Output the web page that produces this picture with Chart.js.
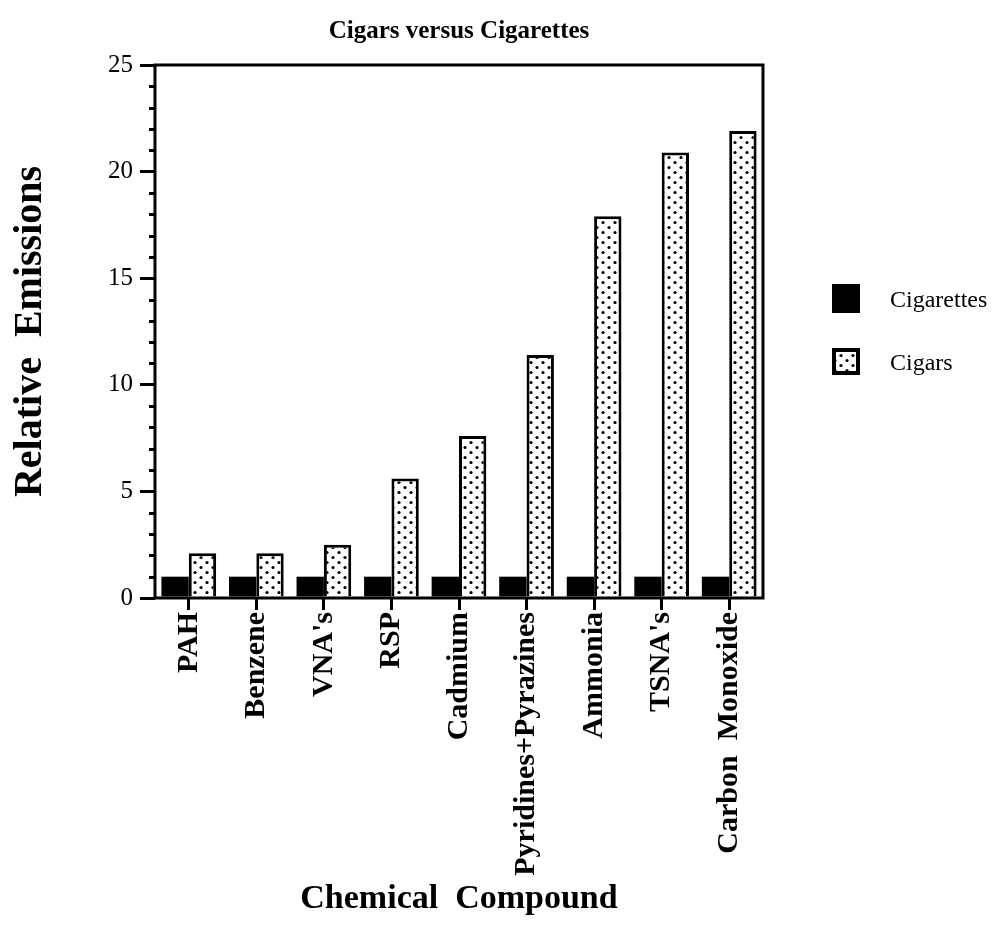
<!DOCTYPE html>
<html><head><meta charset="utf-8">
<script src="https://cdn.jsdelivr.net/npm/chart.js@4.4.1/dist/chart.umd.min.js"></script>
<style>
html,body{margin:0;padding:0;background:#fff}
#wrap{position:relative;width:994px;height:943px}
#legend{position:absolute;left:0;top:0;font-family:'Liberation Serif',serif;font-size:24px;color:#000}
.item{position:absolute;display:flex;align-items:center;white-space:nowrap}
.item canvas{display:block}
.item span{position:absolute;left:58px;top:50%;transform:translateY(-50%)}
</style>
</head><body>
<div id="wrap">
<canvas id="c" width="994" height="943"></canvas>
<div id="legend"></div>
</div>
<script>
// ---- data ----
const categories = ["PAH", "Benzene", "VNA's", "RSP", "Cadmium", "Pyridines+Pyrazines", "Ammonia", "TSNA's", "Carbon  Monoxide"];
const seriesNames = ["Cigarettes", "Cigars"];
const cigarettes = [1.0, 1.0, 1.0, 1.0, 1.0, 1.0, 1.0, 1.0, 1.0];
const cigars = [2.1, 2.1, 2.5, 5.6, 7.6, 11.4, 17.9, 20.9, 21.9];
const yMin = 0, yMax = 25, yMajorStep = 5, yMinorStep = 1;

const FONT = "'Liberation Serif', 'Times New Roman', serif";

function makeDotPattern(ctx) {
  const p = document.createElement('canvas');
  p.width = 12; p.height = 10;
  const g = p.getContext('2d');
  g.fillStyle = '#fff'; g.fillRect(0, 0, 12, 10);
  g.fillStyle = '#000';
  [[3, 2.5], [9, 7.5]].forEach(([x, y]) => { g.beginPath(); g.arc(x, y, 1.6, 0, Math.PI * 2); g.fill(); });
  return ctx.createPattern(p, 'repeat');
}

const canvas = document.getElementById('c');
const ctx = canvas.getContext('2d');
const dots = makeDotPattern(ctx);

const framePlugin = {
  id: 'frame',
  afterDatasetsDraw(chart) {
    const {ctx, chartArea: a, scales: {y}} = chart;
    ctx.save();
    ctx.strokeStyle = '#000';
    ctx.lineWidth = 3;
    // minor ticks on y axis
    for (let v = yMin; v <= yMax; v += yMinorStep) {
      if (v % yMajorStep === 0) continue;
      const py = Math.round(y.getPixelForValue(v)) + 0.5;
      ctx.beginPath(); ctx.moveTo(a.left - 6, py); ctx.lineTo(a.left, py); ctx.stroke();
    }
    ctx.strokeRect(a.left, a.top, a.right - a.left, a.bottom - a.top);
    ctx.restore();
  }
};

const chart = new Chart(ctx, {
  type: 'bar',
  data: {
    labels: categories,
    datasets: [
      { label: seriesNames[0], data: cigarettes, backgroundColor: '#000', borderColor: '#000', borderWidth: 0,
        categoryPercentage: 0.81, barPercentage: 1.0 },
      { label: seriesNames[1], data: cigars, backgroundColor: dots, borderColor: '#000', borderWidth: 3,
        categoryPercentage: 0.81, barPercentage: 1.0 }
    ]
  },
  options: {
    responsive: false,
    animation: false,
    devicePixelRatio: 1,
    layout: { padding: { left: 0, right: 231, top: 0, bottom: 0 } },
    plugins: {
      legend: { display: false },
      tooltip: { enabled: false },
      title: {
        display: true, text: 'Cigars versus Cigarettes', fullSize: false, color: '#000',
        font: { family: FONT, size: 25, weight: 'bold' }, padding: { top: 17, bottom: 18 }
      }
    },
    scales: {
      x: {
        offset: true,
        border: { display: false },
        grid: { display: true, offset: false, drawOnChartArea: false, drawTicks: true, tickLength: 12, lineWidth: 3, color: '#000' },
        ticks: { color: '#000', font: { family: FONT, size: 30, weight: 'bold' }, minRotation: 90, maxRotation: 90, autoSkip: false, padding: 2 },
        title: { display: true, text: 'Chemical  Compound', color: '#000', font: { family: FONT, size: 34, weight: 'bold' }, padding: { top: 0, bottom: 23 } },
        afterFit(s) { s.height = 345; }
      },
      y: {
        min: yMin, max: yMax,
        border: { display: false },
        grid: { display: true, drawOnChartArea: false, drawTicks: true, tickLength: 15, lineWidth: 3, color: '#000' },
        ticks: { stepSize: yMajorStep, color: '#000', font: { family: FONT, size: 25 }, padding: 7 },
        title: { display: true, text: 'Relative  Emissions', color: '#000', font: { family: FONT, size: 40, weight: 'bold' }, padding: { top: 7, bottom: 0 } },
        afterFit(s) { s.width = 155; }
      }
    }
  },
  plugins: [framePlugin]
});

// ---- HTML legend built from the chart's datasets ----
const legend = document.getElementById('legend');
const legendPos = [{ left: 832, top: 284, w: 28, h: 29 }, { left: 832, top: 348, w: 28, h: 27 }];
chart.data.datasets.forEach((ds, i) => {
  const pos = legendPos[i];
  const item = document.createElement('div');
  item.className = 'item';
  item.style.left = pos.left + 'px'; item.style.top = pos.top + 'px'; item.style.height = pos.h + 'px';
  const sw = document.createElement('canvas');
  sw.width = pos.w; sw.height = pos.h;
  const g = sw.getContext('2d');
  g.fillStyle = ds.borderWidth ? makeDotPattern(g) : ds.backgroundColor;
  g.fillRect(0, 0, pos.w, pos.h);
  if (ds.borderWidth) { g.strokeStyle = '#000'; g.lineWidth = 4; g.strokeRect(2, 2, pos.w - 4, pos.h - 4); }
  const sp = document.createElement('span');
  sp.textContent = ds.label;
  item.appendChild(sw); item.appendChild(sp);
  legend.appendChild(item);
});
</script>
</body></html>
